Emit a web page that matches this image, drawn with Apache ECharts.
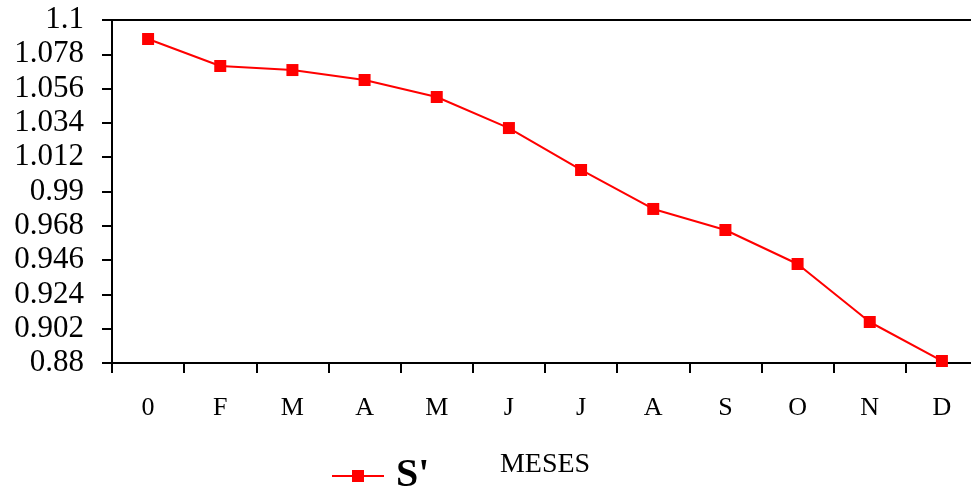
<!DOCTYPE html>
<html>
<head>
<meta charset="utf-8">
<script src="https://cdn.jsdelivr.net/npm/echarts@6/dist/echarts.min.js"></script>
<style>html,body{margin:0;padding:0;background:#fff}#c{width:971px;height:496px}</style>
</head>
<body>
<div id="c"></div>
<script>
const categories = ['0','F','M','A','M','J','J','A','S','O','N','D'];
const sValues = [1.0878,1.0705,1.0679,1.0615,1.0506,1.0307,1.0038,0.9788,0.9653,0.9435,0.9063,0.8813];
const yTickLabels = ['0.88','0.902','0.924','0.946','0.968','0.99','1.012','1.034','1.056','1.078','1.1'];
const seriesName = "S'";
const xAxisName = 'MESES';

const font = 'Liberation Serif';
const chart = echarts.init(document.getElementById('c'), null, {renderer:'canvas'});
chart.setOption({
  animation: false,
  backgroundColor: '#fff',
  grid: {left:112, top:20, width:866, height:343, show:true, borderColor:'#000', borderWidth:2, backgroundColor:'transparent', outerBoundsMode:'none', containLabel:false},
  legend: {
    left: 331, top: 456, padding: 0,
    itemWidth: 52, itemHeight: 15, itemGap: 10,
    data: [seriesName],
    textStyle: {fontFamily: font, fontWeight:'bold', fontSize: 40, color:'#000', padding:[0,0,0,7]}
  },
  xAxis: {
    type: 'category',
    data: categories,
    boundaryGap: true,
    name: xAxisName,
    nameLocation: 'middle',
    nameGap: 88,
    nameTextStyle: {fontFamily: font, fontSize: 28, color:'#000'},
    axisLine: {show:true, lineStyle:{color:'#000', width:2}},
    axisTick: {show:true, length:10, inside:false, lineStyle:{color:'#000', width:2}},
    axisLabel: {fontFamily: font, fontSize: 26, color:'#000', margin: 32},
    splitLine: {show:false}
  },
  yAxis: {
    type: 'value',
    min: 0.88, max: 1.1, interval: 0.022,
    axisLine: {show:true, lineStyle:{color:'#000', width:2}},
    axisTick: {show:true, length:10, lineStyle:{color:'#000', width:2}},
    axisLabel: {
      fontFamily: font, fontSize: 31, color:'#000', margin: 28,
      formatter: function(v){
        const i = Math.round((v - 0.88)/0.022);
        return yTickLabels[i] !== undefined ? yTickLabels[i] : '';
      }
    },
    splitLine: {show:false}
  },
  series: [{
    name: seriesName,
    type: 'line',
    data: sValues,
    symbol: 'rect',
    symbolSize: 12,
    lineStyle: {color:'#ff0000', width:2},
    itemStyle: {color:'#ff0000'},
    clip: false
  }]
});
</script>
</body>
</html>
